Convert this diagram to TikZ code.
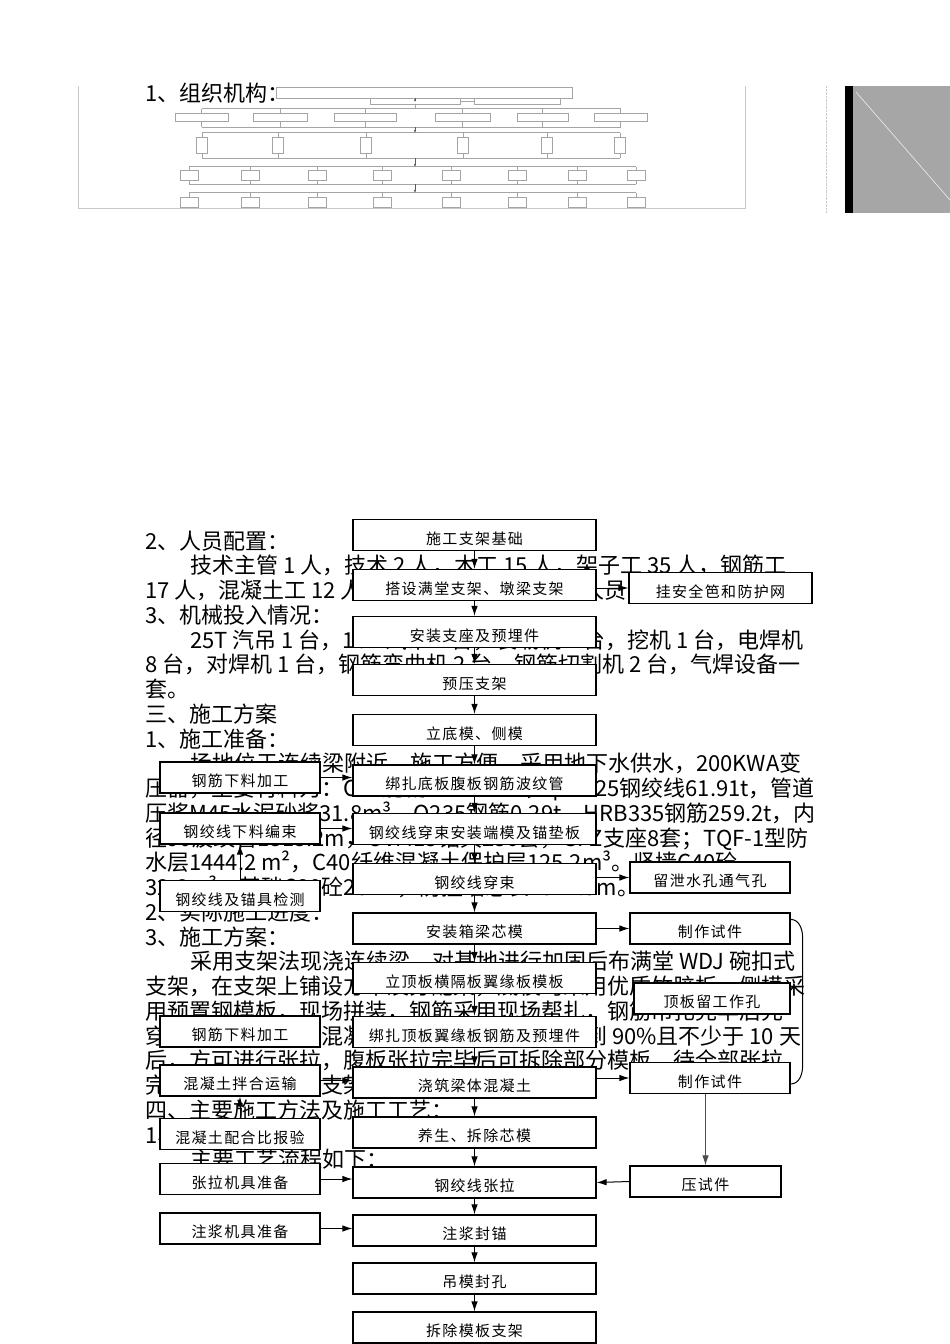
\documentclass[tikz,border=0pt]{standalone}
\usepackage{fontspec}
\setmainfont{Noto Sans CJK SC}
\newfontfamily\boxfam[LetterSpace=9]{Noto Sans CJK SC}
\usetikzlibrary{arrows.meta,positioning,calc}
\definecolor{orggray}{RGB}{165,165,165}
\definecolor{framegray}{RGB}{200,200,200}
\definecolor{blockgray}{RGB}{166,166,166}
\newcommand\bodyfont{\fontsize{22}{24}\selectfont}
\newcommand\boxfont{\boxfam\fontsize{15}{17}\selectfont}
\tikzset{
  stepbox/.style={draw, line width=1.2pt, fill=white, minimum width=243, minimum height=31, inner sep=0pt, text height=20pt, text depth=1.5pt, font=\boxfont},
  sidebox/.style={stepbox, minimum width=160},
  flowarr/.style={-{Latex[length=10pt,width=6.5pt]}, line width=1pt},
  bodyline/.style={anchor=base west, inner sep=0pt, font=\bodyfont},
  orgbox/.style={draw=orggray, line width=0.6pt, inner sep=0pt},
  orgline/.style={draw=orggray, line width=0.6pt},
  orgarr/.style={-{Latex[length=3pt,width=2.5pt]}, draw=black!65, line width=0.6pt}
}
\begin{document}
\begin{tikzpicture}[x=1pt, y=-1pt]
  \useasboundingbox (0,0) rectangle (950,1344);
  % organisation chart picture at the top
  \draw[framegray, line width=0.8pt] (78,86) -- (78,208) -- (745,208) -- (745,86);
  \draw[framegray, densely dotted] (826,86) -- (826,213);
  \fill[blockgray] (845,86) rectangle (950,213);
  \fill[black] (845,86) rectangle (853,213);
  \draw[white!80!blockgray, line width=0.6pt] (856,92) -- (950,200);
  \node[bodyline] (orghead) at (145,101) {1、组织机构：};
  \node[orgbox, minimum width=296, minimum height=11] (orgtitle) at (424,92.5) {};
  \node[orgbox, minimum width=90, minimum height=6] (orgA) at (415,101.5) {};
  \node[orgbox, minimum width=86, minimum height=6] (orgB) at (517,101.5) {};
  \draw[orgline] (orgA) -- (orgB);
  \draw[orgarr] (orgtitle.south -| orgA.north) -- (orgA.north);
  \foreach \x/\w [count=\i] in {201.5/53,280/54,365/62,462.5/55,542.5/51,620.5/53}
    \node[orgbox, minimum width=\w, minimum height=8] (ra\i) at (\x,117) {};
  \foreach \x [count=\i] in {202,278,366,463,547,620}
    \node[orgbox, minimum width=11, minimum height=16] (rb\i) at (\x,145) {};
  \foreach \x [count=\i] in {189,250,317,382,451,517,577,636} {
    \node[orgbox, minimum width=18, minimum height=10] (rc\i) at (\x,175) {};
    \node[orgbox, minimum width=18, minimum height=10] (rd\i) at (\x,202) {};
  }
  \foreach \i in {1,...,6} {
    \draw[orgline] (ra\i.north) -- ++(0,-4);
    \draw[orgline] (ra\i.south) -- ++(0,6);
    \draw[orgline] (rb\i.north) -- ++(0,-4);
    \draw[orgline] (rb\i.south) -- ++(0,5);
  }
  \foreach \i in {1,...,8} {
    \draw[orgline] (rc\i.north) -- ++(0,-3);
    \draw[orgline] (rc\i.south) -- ++(0,4);
    \draw[orgline] (rd\i.north) -- ++(0,-4);
  }
  \draw[orgline] ($(ra1.north)+(0,-4)$) -- ($(ra6.north)+(0,-4)$);
  \draw[orgline] ($(ra1.south)+(0,6)$) -- ($(ra6.south)+(0,6)$);
  \draw[orgline] ($(rb1.north)+(0,-4)$) -- ($(rb6.north)+(0,-4)$);
  \draw[orgline] ($(rb1.south)+(0,5)$) -- ($(rb6.south)+(0,5)$);
  \draw[orgline] ($(rc1.north)+(0,-3)$) -- ($(rc8.north)+(0,-3)$);
  \draw[orgline] ($(rc1.south)+(0,4)$) -- ($(rc8.south)+(0,4)$);
  \draw[orgline] ($(rd1.north)+(0,-4)$) -- ($(rd8.north)+(0,-4)$);
  \coordinate (j0) at (415,109);
  \coordinate (j1) at (415,127);
  \coordinate (j2) at (415,133);
  \coordinate (j3) at (415,158);
  \coordinate (j4) at (415,167);
  \coordinate (j5) at (415,184);
  \coordinate (j6) at (415,193);
  \draw[orgline] (orgA.south) -- (j0);
  \draw[orgarr] (j1) -- (j2);
  \draw[orgarr] (j3) -- (j4);
  \draw[orgarr] (j5) -- (j6);
  % body text behind the flow chart
  \foreach \k/\x/\t in {
    0/145/2、人员配置：,
    1/190/技术主管 1 人，技术 2 人，木工 15 人，架子工 35 人，钢筋工,
    2/145/17 人，混凝土工 12 人，电工 2 人，其他辅助人员,
    3/145/3、机械投入情况：,
    4/190/25T 汽吊 1 台，16T 汽吊 1 台，装载机 2 台，挖机 1 台，电焊机,
    5/145/8 台，对焊机 1 台，钢筋弯曲机 2 台，钢筋切割机 2 台，气焊设备一,
    6/145/套。,
    7/145/三、施工方案,
    8/145/1、施工准备：,
    9/190/场地位于连续梁附近，施工方便，采用地下水供水，200KWA变,
    10/145/压器，主要材料为：C50混凝土1126m³，φ15.25钢绞线61.91t，管道,
    11/145/压浆M45水泥砂浆31.8m³，Q235钢筋0.29t，HRB335钢筋259.2t，内,
    12/145/径90波纹管1815.2m，OVM15锚具256套，GPZ支座8套；TQF-1型防,
    13/145/水层1444.2 m²，C40纤维混凝土保护层125.2m³。竖墙C40砼,
    14/145/32.6m³，基础C30砼20m³，防撞墙总长1314.5m。,
    15/145/2、实际施工进度：,
    16/145/3、施工方案：,
    17/190/采用支架法现浇连续梁，对基地进行加固后布满堂 WDJ 碗扣式,
    18/145/支架，在支架上铺设方木及分配梁，底模均采用优质竹胶板，侧模采,
    19/145/用预置钢模板，现场拼装，钢筋采用现场帮扎，钢筋吊扎完毕后先,
    20/145/穿束，再浇筑梁体混凝土后，待混凝土强度达到 90\%且不少于 10 天,
    21/145/后，方可进行张拉，腹板张拉完毕后可拆除部分模板，待全部张拉,
    22/145/完毕并压浆后再拆支架。,
    23/145/四、主要施工方法及施工工艺：,
    24/145/1、箱梁施工：,
    25/190/主要工艺流程如下：}
    \node[bodyline] (t\k) at (\x,{549+24.75*\k}) {\t};
  % main column
  \foreach \i/\y/\t in {1/535/施工支架基础, 2/585/搭设满堂支架、墩梁支架,
    3/632/安装支座及预埋件, 4/680/预压支架, 5/730/立底模、侧模,
    6/780.5/绑扎底板腹板钢筋波纹管, 7/829/钢绞线穿束安装端模及锚垫板,
    8/879/钢绞线穿束, 9/928.5/安装箱梁芯模, 10/978/立顶板横隔板翼缘板模板,
    11/1032/绑扎顶板翼缘板钢筋及预埋件, 12/1082.5/浇筑梁体混凝土,
    13/1132.5/养生、拆除芯模, 14/1182.5/钢绞线张拉, 15/1230.5/注浆封锚,
    16/1278.5/吊模封孔, 17/1327.5/拆除模板支架}
    \node[stepbox] (m\i) at (474.5,\y) {\t};
  % left column
  \foreach \i/\y/\t in {1/777.5/钢筋下料加工, 2/828.5/钢绞线下料编束,
    3/896/钢绞线及锚具检测, 4/1031.5/钢筋下料加工, 5/1080.5/混凝土拌合运输,
    6/1134/混凝土配合比报验, 7/1179/张拉机具准备, 8/1228.5/注浆机具准备}
    \node[sidebox] (l\i) at (240,\y) {\t};
  % right column
  \node[sidebox, minimum width=183] (guard) at (720.5,588) {挂安全笆和防护网};
  \node[sidebox] (drain) at (710,877.5) {留泄水孔通气孔};
  \node[sidebox] (samp1) at (710,928.5) {制作试件};
  \node[sidebox, minimum width=156] (hole) at (712,998.5) {顶板留工作孔};
  \node[sidebox] (samp2) at (710,1078) {制作试件};
  \node[sidebox, minimum width=151] (press) at (705.5,1181.5) {压试件};
  % connectors
  \foreach \i in {1,...,16} {
    \pgfmathtruncatemacro\j{\i+1}
    \draw[flowarr] (m\i) -- (m\j);
  }
  \draw[flowarr] (l1.east) -- (l1.east -| m6.west);
  \draw[flowarr] (l2.east) -- (l2.east -| m7.west);
  \draw[flowarr] (l3.north) -- (l3.north |- l2.south);
  \draw[flowarr] (l5.east) -- (l5.east -| m12.west);
  \draw[flowarr] (l6.north) -- (l6.north |- l5.south);
  \draw[flowarr] (l7.east) -- (l7.east -| m14.west);
  \draw[flowarr] (l8.east) -- (l8.east -| m15.west);
  \draw[flowarr] (guard.west -| m2.east) -- (guard.west);
  \draw[flowarr] (drain.west -| m8.east) -- (drain.west);
  \draw[flowarr] (m9.east) -- (samp1.west);
  \draw[flowarr] (samp2.west -| m12.east) -- (samp2.west);
  \draw[flowarr] (press.west) -- (m14.east);
  \draw[flowarr, black!70] (press.north |- samp2.south) -- (press.north);
  \draw[line width=1pt] ($(samp1.north east)+(0,7)$) to[out=0,in=90] ($(samp1.north east)+(12,25)$)
    -- ($(samp2.east)+(12,-12)$) to[out=-90,in=0] ($(samp2.east)+(0,6)$);
\end{tikzpicture}
\end{document}
